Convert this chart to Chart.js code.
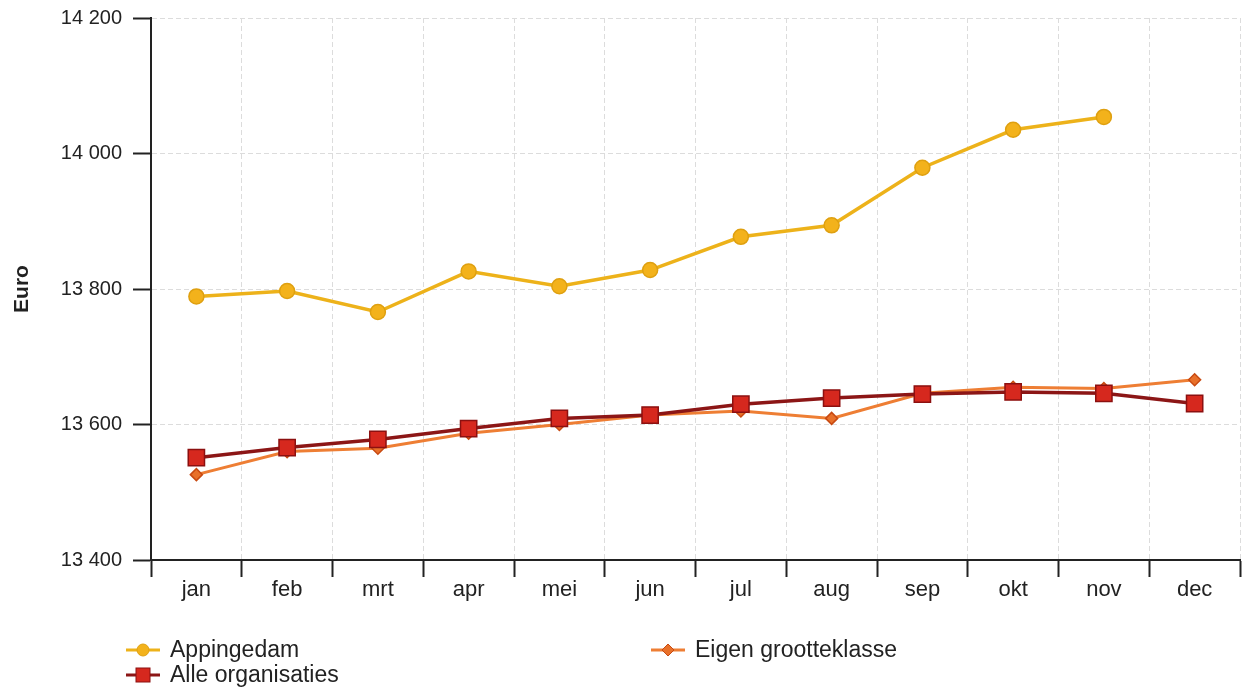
<!DOCTYPE html>
<html><head><meta charset="utf-8">
<script src="https://cdn.jsdelivr.net/npm/chart.js@4.4.0/dist/chart.umd.min.js"></script>
<style>
html,body{margin:0;padding:0;background:#fff;}
#wrap{position:relative;width:1248px;height:693px;overflow:hidden;}
#c{position:absolute;left:0;top:0;}
.lg{position:absolute;font-family:"Liberation Sans",Arial,sans-serif;font-size:23px;color:#222;display:flex;align-items:center;white-space:nowrap;height:25px;line-height:25px;}
.lg svg{margin-right:10px;flex:none;}
</style></head><body>
<div id="wrap"><canvas id="c" width="1248" height="693"></canvas><div id="legend"></div></div>
<script>
const months = ['jan','feb','mrt','apr','mei','jun','jul','aug','sep','okt','nov','dec'];
const appingedam = [13789, 13797, 13766, 13826, 13804, 13828, 13877, 13894, 13979, 14035, 14054, null];
const alleOrganisaties = [13551, 13566, 13578, 13594, 13609, 13614, 13630, 13639, 13645, 13648, 13646, 13631];
const eigenGrootteklasse = [13526, 13560, 13565, 13587, 13600, 13614, 13620, 13609, 13646, 13655, 13653, 13666];
const yTicks = [13400, 13600, 13800, 14000, 14200];
const yTitle = 'Euro';
const seriesNames = ['Appingedam', 'Alle organisaties', 'Eigen grootteklasse'];

const FONT = '"Liberation Sans", Arial, sans-serif';
const fmt = v => String(v).replace(/\B(?=(\d{3})+(?!\d))/g, ' ');

const styles = [
  {line:'#EDB21A', fill:'#F3B21B', border:'#DFA010', style:'circle', radius:7.5, width:3.5, order:1},
  {line:'#8C1616', fill:'#D6281E', border:'#8C1010', style:'rect', radius:11.5, width:3.5, order:2},
  {line:'#EE7E34', fill:'#E8702A', border:'#C84A12', style:'rectRot', radius:6, width:3, order:3}
];
const values = [appingedam, alleOrganisaties, eigenGrootteklasse];

const datasets = values.map((d, i) => ({
  label: seriesNames[i],
  data: d,
  borderColor: styles[i].line,
  borderWidth: styles[i].width,
  backgroundColor: styles[i].fill,
  pointBackgroundColor: styles[i].fill,
  pointBorderColor: styles[i].border,
  pointBorderWidth: 1.5,
  pointStyle: styles[i].style,
  pointRadius: styles[i].radius,
  pointHoverRadius: styles[i].radius,
  tension: 0,
  spanGaps: false,
  order: styles[i].order
}));

new Chart(document.getElementById('c'), {
  type: 'line',
  data: { labels: months, datasets },
  options: {
    responsive: false,
    animation: false,
    layout: { autoPadding: false, padding: { left: 0, right: 8, top: 18, bottom: 88 } },
    plugins: { legend: { display: false }, tooltip: { enabled: false } },
    scales: {
      x: {
        type: 'category',
        offset: true,
        grid: { offset: true, color: '#dcdcdc', lineWidth: 1, tickLength: 17, tickColor: '#222', tickWidth: 2 },
        border: { display: true, color: '#222', width: 2, dash: [5, 3] },
        ticks: { color: '#222', font: { family: FONT, size: 22 }, padding: 0, maxRotation: 0 },
        afterFit: s => { s.height = 45; }
      },
      y: {
        min: yTicks[0],
        max: yTicks[yTicks.length - 1],
        afterBuildTicks: s => { s.ticks = yTicks.map(v => ({ value: v })); },
        grid: { color: '#dcdcdc', lineWidth: 1, tickLength: 18, tickColor: '#222', tickWidth: 2 },
        border: { display: true, color: '#222', width: 2, dash: [5, 3] },
        ticks: { color: '#222', font: { family: FONT, size: 20 }, padding: 11, callback: v => fmt(v) },
        title: { display: true, text: yTitle, color: '#222', font: { family: FONT, size: 21, weight: 'bold' }, padding: { top: 10, bottom: 0 } },
        afterFit: s => { s.width = 151; s.paddingTop = 0; s.paddingBottom = 0; }
      }
    }
  }
});

// HTML legend built from dataset names and styles
const legendPos = [
  {left: 126, top: 637},   // Appingedam
  {left: 126, top: 662},   // Alle organisaties
  {left: 651, top: 637}    // Eigen grootteklasse
];
function markerSvg(st) {
  const w = 34, h = 20, cx = 17, cy = 10;
  let shape = '';
  if (st.style === 'circle') shape = `<circle cx="${cx}" cy="${cy}" r="6" fill="${st.fill}" stroke="${st.border}" stroke-width="1"/>`;
  else if (st.style === 'rect') shape = `<rect x="${cx-7}" y="${cy-7}" width="14" height="14" fill="${st.fill}" stroke="${st.border}" stroke-width="1"/>`;
  else shape = `<polygon points="${cx-6},${cy} ${cx},${cy-6} ${cx+6},${cy} ${cx},${cy+6}" fill="${st.fill}" stroke="${st.border}" stroke-width="1"/>`;
  return `<svg width="${w}" height="${h}" viewBox="0 0 ${w} ${h}"><line x1="0" y1="${cy}" x2="${w}" y2="${cy}" stroke="${st.line}" stroke-width="3"/>${shape}</svg>`;
}
const lg = document.getElementById('legend');
seriesNames.forEach((name, i) => {
  const d = document.createElement('div');
  d.className = 'lg';
  d.style.left = legendPos[i].left + 'px';
  d.style.top = legendPos[i].top + 'px';
  d.innerHTML = markerSvg(styles[i]) + '<span></span>';
  d.querySelector('span').textContent = name;
  lg.appendChild(d);
});
</script>
</body></html>
